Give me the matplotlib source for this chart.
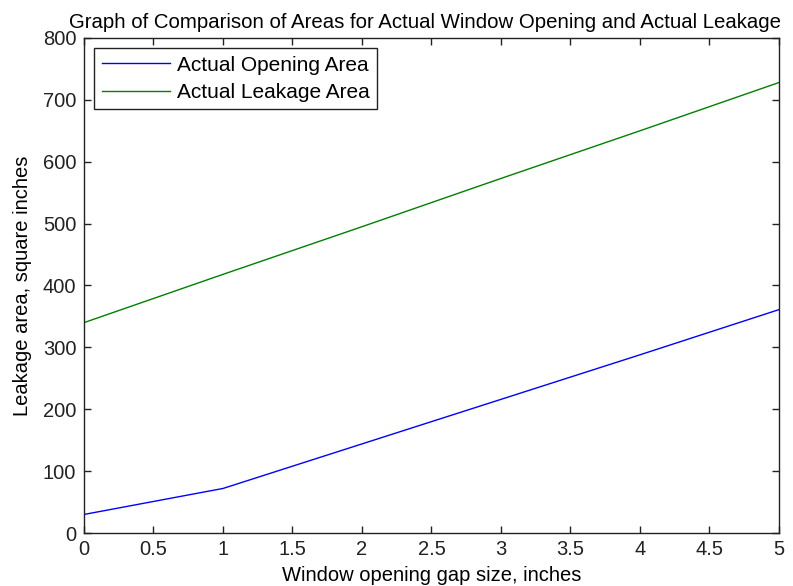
import matplotlib
matplotlib.use("Agg")
import matplotlib.pyplot as plt

gap = [0, 1, 2, 3, 4, 5]
opening_area = [30, 72, 144, 216, 288, 361]
leakage_gap = [0, 1, 2, 3, 4, 5]
leakage_area = [340, 418, 495, 573, 650, 728]

xticks = [0, 0.5, 1, 1.5, 2, 2.5, 3, 3.5, 4, 4.5, 5]
xticklabels = ["0", "0.5", "1", "1.5", "2", "2.5", "3", "3.5", "4", "4.5", "5"]
yticks = [0, 100, 200, 300, 400, 500, 600, 700, 800]

plt.rcParams['font.family'] = ['Liberation Sans', 'DejaVu Sans']

fig = plt.figure(figsize=(7.93, 5.86), dpi=100)
ax = fig.add_axes([0.1059, 0.0904, 0.8764, 0.8448])

ax.plot(gap, opening_area, color=(0, 0, 1), lw=1.0, label="Actual Opening Area")
ax.plot(leakage_gap, leakage_area, color=(0, 0.5, 0), lw=1.0, label="Actual Leakage Area")

ax.set_xlim(0, 5)
ax.set_ylim(0, 800)
ax.set_xticks(xticks)
ax.set_xticklabels(xticklabels)
ax.set_yticks(yticks)
ax.tick_params(direction='in', length=5, width=1, top=True, right=True,
               labelsize=14.5, colors='#222222')
ax.tick_params(axis='x', pad=5)
ax.tick_params(axis='y', pad=5.5)
for s in ax.spines.values():
    s.set_color('#222222')
    s.set_linewidth(1)

ax.set_xlabel("Window opening gap size, inches", fontsize=14.5, labelpad=5)
ax.set_ylabel("Leakage area, square inches", fontsize=14.5, labelpad=8)
ax.set_title("Graph of Comparison of Areas for Actual Window Opening and Actual Leakage",
             fontsize=14.7, pad=7, x=0.49)

leg = ax.legend(loc='upper left', fontsize=15, fancybox=False, framealpha=1,
                edgecolor='#222222', handlelength=3.3, borderpad=0.35,
                labelspacing=0.4, borderaxespad=0.5, handletextpad=0.3)
leg.get_frame().set_linewidth(1)

fig.savefig("out.png", dpi=100)
